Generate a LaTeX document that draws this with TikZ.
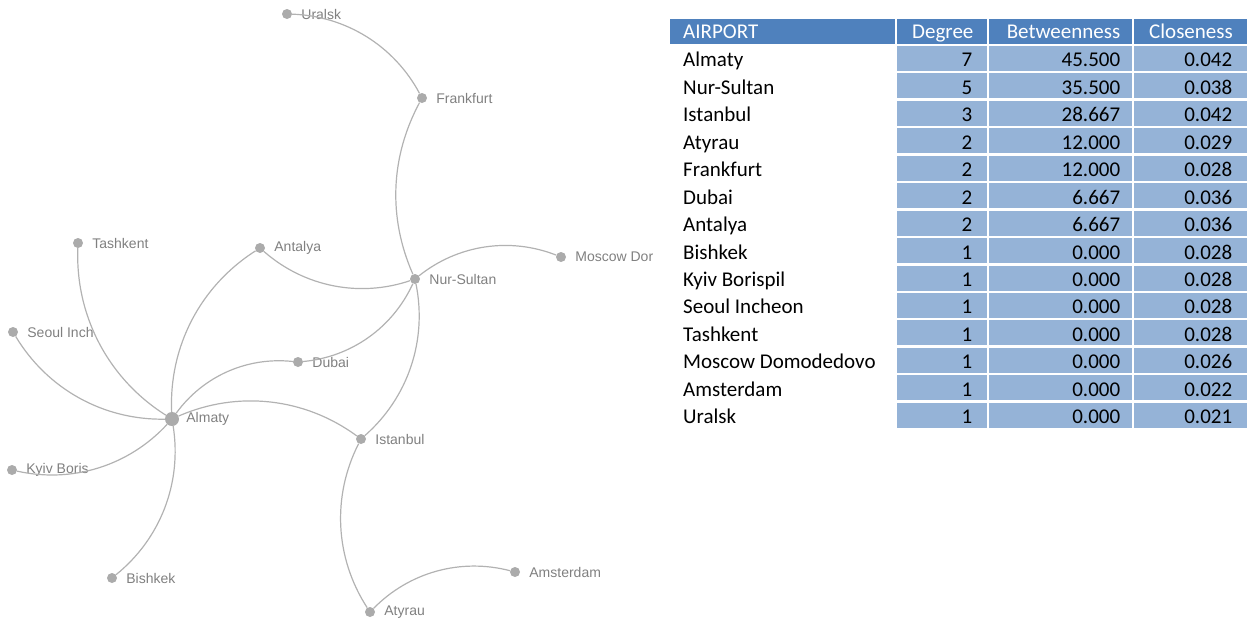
\documentclass[tikz,border=0pt]{standalone}
\usepackage{fontspec}
\setmainfont{Carlito}
\newfontfamily\graphfont{Liberation Sans}
\usetikzlibrary{positioning}
\definecolor{HeadBlue}{HTML}{4F81BD}
\definecolor{CellBlue}{HTML}{95B3D7}
\definecolor{DotGray}{HTML}{ABABAB}
\definecolor{EdgeGray}{HTML}{B2B2B2}
\definecolor{LabelGray}{HTML}{808080}

\begin{document}
\begin{tikzpicture}[x=1pt, y=1pt,
  airport/.style={circle,fill=DotGray,inner sep=0pt,minimum size=10pt},
  hub/.style={airport,minimum size=14pt},
  lbl/.style={font=\graphfont\fontsize{14}{16}\selectfont,text=LabelGray,inner sep=0pt},
  link/.style={EdgeGray,line width=1.2pt,looseness=0.92},
  tcell/.style={inner ysep=0pt,minimum height=25pt,anchor=north west,font=\fontsize{21}{24}\selectfont},
  headcell/.style={tcell,fill=HeadBlue,text=white,text height=16pt,text depth=2.4pt},
  datacell/.style={tcell,text height=19pt,text depth=2pt}]
\useasboundingbox (0,0) rectangle (1248,-624);

% network of airports
\node[airport,label={[lbl,label distance=9pt]right:Uralsk}] (uralsk) at (287,-14) {};
\node[airport,label={[lbl,label distance=9pt]right:Frankfurt}] (frankfurt) at (422,-98) {};
\node[airport,label={[lbl,label distance=9pt]right:Tashkent}] (tashkent) at (78,-243) {};
\node[airport,label={[lbl,label distance=9pt]right:Antalya}] (antalya) at (260,-248) {};
\node[airport,label={[lbl,label distance=9pt]right:Nur-Sultan}] (nursultan) at (415,-279) {};
\node[airport,label={[lbl,label distance=9pt]right:Moscow Dor}] (moscow) at (561,-257) {};
\node[airport,label={[lbl,label distance=9pt]right:Seoul Inch}] (seoul) at (13,-332) {};
\node[airport,label={[lbl,label distance=9pt]right:Dubai}] (dubai) at (298,-362) {};
\node[hub,label={[lbl,label distance=7pt]right:Almaty}] (almaty) at (172,-419) {};
\node[airport,label={[lbl,label distance=9pt]right:Istanbul}] (istanbul) at (361,-439) {};
\node[airport,label={[lbl,label distance=9pt]right:Kyiv Boris}] (kyiv) at (12,-470) {};
\node[airport,label={[lbl,label distance=9pt]right:Bishkek}] (bishkek) at (112,-578) {};
\node[airport,label={[lbl,label distance=9pt]right:Amsterdam}] (amsterdam) at (515,-572) {};
\node[airport,label={[lbl,label distance=9pt]right:Atyrau}] (atyrau) at (370,-612) {};

\draw[link] (uralsk) to[bend left=30] (frankfurt);
\draw[link] (frankfurt) to[bend right=26] (nursultan);
\draw[link] (nursultan) to[bend left=30] (moscow);
\draw[link] (antalya) to[bend right=30] (nursultan);
\draw[link] (nursultan) to[bend left=30] (dubai);
\draw[link] (nursultan) to[bend left=30] (istanbul);
\draw[link] (almaty) to[bend left=30] (antalya);
\draw[link] (almaty) to[bend left=30] (dubai);
\draw[link] (almaty) to[bend left=30] (istanbul);
\draw[link] (tashkent) to[bend right=30] (almaty);
\draw[link] (seoul) to[bend right=30] (almaty);
\draw[link] (kyiv) to[bend right=30] (almaty);
\draw[link] (almaty) to[bend left=30] (bishkek);
\draw[link] (istanbul) to[bend right=30] (atyrau);
\draw[link] (atyrau) to[bend left=30] (amsterdam);

% centrality table
\node[headcell,text width=199pt,inner xsep=13pt,align=left] (hname) at (670,-19) {AIRPORT};
\node[headcell,text width=60pt,inner xsep=15pt,align=right] (hdeg) at (897,-19) {Degree};
\node[headcell,text width=119pt,inner xsep=12pt,align=right] (hbetw) at (989,-19) {Betweenness};
\node[headcell,text width=83pt,inner xsep=15pt,align=right] (hclos) at (1134,-19) {Closeness};
\foreach \name/\deg/\betw/\clos [count=\i] in {Almaty/7/45.500/0.042, Nur-Sultan/5/35.500/0.038,
    Istanbul/3/28.667/0.042, Atyrau/2/12.000/0.029, Frankfurt/2/12.000/0.028, Dubai/2/6.667/0.036,
    Antalya/2/6.667/0.036, Bishkek/1/0.000/0.028, Kyiv Borispil/1/0.000/0.028,
    Seoul Incheon/1/0.000/0.028, Tashkent/1/0.000/0.028, Moscow Domodedovo/1/0.000/0.026,
    Amsterdam/1/0.000/0.022, Uralsk/1/0.000/0.021} {
  \pgfmathsetmacro\rowtop{-45.7-27.45*(\i-1)}
  \node[datacell,inner xsep=0pt] (name-\i) at (683,\rowtop) {\name};
  \node[datacell,fill=CellBlue,text width=60pt,inner xsep=15pt,align=right] (deg-\i) at (897,\rowtop) {\deg};
  \node[datacell,fill=CellBlue,text width=119pt,inner xsep=12pt,align=right] (betw-\i) at (989,\rowtop) {\betw};
  \node[datacell,fill=CellBlue,text width=83pt,inner xsep=15pt,align=right] (clos-\i) at (1134,\rowtop) {\clos};
}
\end{tikzpicture}
\end{document}
